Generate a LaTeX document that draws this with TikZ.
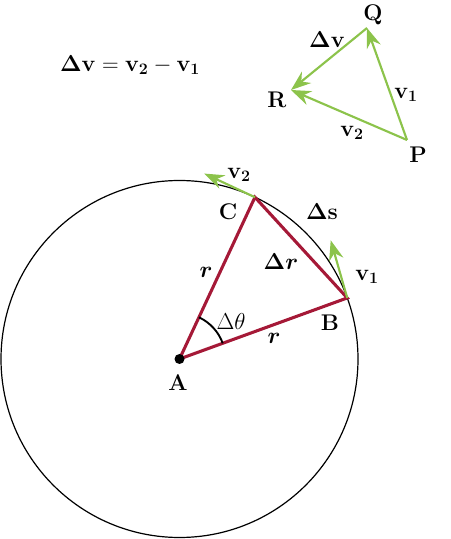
\documentclass[tikz,border=0pt]{standalone}
\usepackage{bm}
\usetikzlibrary{arrows.meta}
\definecolor{chordred}{RGB}{165,25,55}
\definecolor{vecgreen}{RGB}{140,195,75}
\tikzset{
  lbl/.style={font=\fontsize{17}{20}\selectfont\bfseries, inner sep=1pt},
  vec/.style={vecgreen, line width=1.6pt, -{Stealth[length=15pt,width=11pt,inset=5pt]}},
  side/.style={chordred, line width=2.3pt, line join=miter},
}
\begin{document}
\begin{tikzpicture}[x=0.75pt,y=0.75pt]
    \useasboundingbox (0,0) rectangle (450,539);

    % Circle and its centre
    \coordinate (A) at (179.5,180);
    \draw[line width=0.9pt] (A) circle (178.5);
    \coordinate (B) at ([shift={(20:178.5)}]A);
    \coordinate (C) at ([shift={(65:178.5)}]A);

    % Radii and chord
    \draw[side] (A) -- (B) -- (C) -- cycle;

    % Angle at A
    \draw[line width=1.4pt] ([shift={(20:46)}]A) arc (20:65:46);
    \fill (A) circle (5);

    % Velocities on the circle
    \coordinate (v1tip) at ([shift={(106:60)}]B);
    \coordinate (v2tip) at ([shift={(155:56)}]C);
    \draw[vec] (B) -- (v1tip);
    \draw[vec] (C) -- (v2tip);

    % Labels on the circle
    \node[lbl] (lA) at (178,156) {A};
    \node[lbl] (lB) at (330,216) {B};
    \node[lbl] (lC) at (228,327) {C};
    \node[lbl] (lr1) at (206,267) {$\bm{r}$};
    \node[lbl] (lr2) at (274,201) {$\bm{r}$};
    \node[lbl] (ldr) at (281,277) {$\mathbf{\Delta}\bm{r}$};
    \node[lbl] (ldth) at (231,217) {$\Delta\theta$};
    \node[lbl] (lds) at (322,327) {$\mathbf{\Delta s}$};
    \node[lbl] (lv1) at (367,262) {$\mathbf{v_1}$};
    \node[lbl] (lv2) at (239,364) {$\mathbf{v_2}$};

    % Vector triangle
    \coordinate (P) at (407,399);
    \coordinate (Q) at (367,511);
    \coordinate (R) at (291,449);
    \draw[vec] (P) -- (Q);
    \draw[vec] (P) -- (R);
    \draw[vec] (Q) -- (R);
    \node[lbl] (lP) at (418,384) {P};
    \node[lbl] (lQ) at (373,524) {Q};
    \node[lbl] (lR) at (277,439) {R};
    \node[lbl] (ldv) at (327,499) {$\mathbf{\Delta v}$};
    \node[lbl] (ltv1) at (406,444) {$\mathbf{v_1}$};
    \node[lbl] (ltv2) at (352,406) {$\mathbf{v_2}$};

    % Equation
    \node[lbl] (eq) at (130,474) {$\mathbf{\Delta v} = \mathbf{v_2} - \mathbf{v_1}$};
\end{tikzpicture}
\end{document}
